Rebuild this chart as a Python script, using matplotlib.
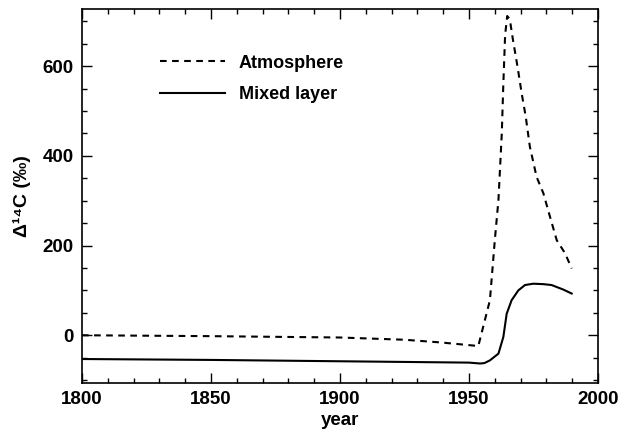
import matplotlib
matplotlib.use("Agg")
import matplotlib.pyplot as plt
from matplotlib.ticker import MultipleLocator

plt.rcParams['font.family'] = ['Liberation Sans', 'DejaVu Sans']
plt.rcParams['font.weight'] = 'bold'

# Atmosphere Delta14C (per mil)
atm_year = [1800, 1850, 1900, 1925, 1939, 1953.6, 1958.1, 1960, 1961.4, 1962.7,
            1963.3, 1964, 1964.8, 1965.8, 1967, 1968.8, 1970.4, 1972, 1973.6, 1976.2,
            1978.8, 1981.4, 1984, 1987.2, 1989.8]
atm_val = [0, -2, -5, -10, -16, -24, 78, 212, 301, 450,
           560, 670, 712, 705, 660, 599, 540, 487, 420, 353,
           317, 264, 212, 183, 149]

# Mixed layer Delta14C (per mil)
mix_year = [1800, 1850, 1900, 1950, 1954.3, 1956, 1958.1, 1961.4, 1963.3, 1964.6,
            1966.5, 1969.1, 1971.7, 1974.9, 1978.8, 1982, 1986.5, 1989.8]
mix_val = [-53, -55, -58, -61, -63, -62, -56, -41, -4, 48,
           78, 100, 112, 115, 114, 112, 102, 93]

legend_labels = ["Atmosphere", "Mixed layer"]

fig = plt.figure(figsize=(6.21, 4.34), dpi=100)
ax = fig.add_axes([0.132, 0.118, 0.831, 0.8606])

ax.plot(atm_year, atm_val, color='black', lw=1.5, linestyle=(0, (3.2, 2.6)),
        label=legend_labels[0])
ax.plot(mix_year, mix_val, color='black', lw=1.5, linestyle='-',
        label=legend_labels[1])

ax.set_xlim(1800, 2000)
ax.set_ylim(-106, 727)
ax.xaxis.set_major_locator(MultipleLocator(50))
ax.xaxis.set_minor_locator(MultipleLocator(10))
ax.yaxis.set_major_locator(MultipleLocator(200))
ax.yaxis.set_minor_locator(MultipleLocator(50))
ax.tick_params(which='both', direction='in', top=True, right=True, width=1.0)
ax.tick_params(which='major', length=7.5, labelsize=13.5, pad=6)
ax.tick_params(which='minor', length=3.5)
for lab in ax.get_xticklabels() + ax.get_yticklabels():
    lab.set_fontweight('bold')
for s in ax.spines.values():
    s.set_linewidth(1.2)

ax.set_xlabel("year", fontsize=13.5, fontweight='bold', labelpad=3)
ax.set_ylabel("\u0394\u00b9\u2074C (\u2030)", fontsize=14, fontweight='bold', labelpad=8)

leg = ax.legend(loc='upper left', bbox_to_anchor=(0.12, 0.922), frameon=False,
                handlelength=3.6, handletextpad=0.75, labelspacing=0.82,
                prop={'weight': 'bold', 'size': 13})

fig.savefig("out.png", dpi=100)
